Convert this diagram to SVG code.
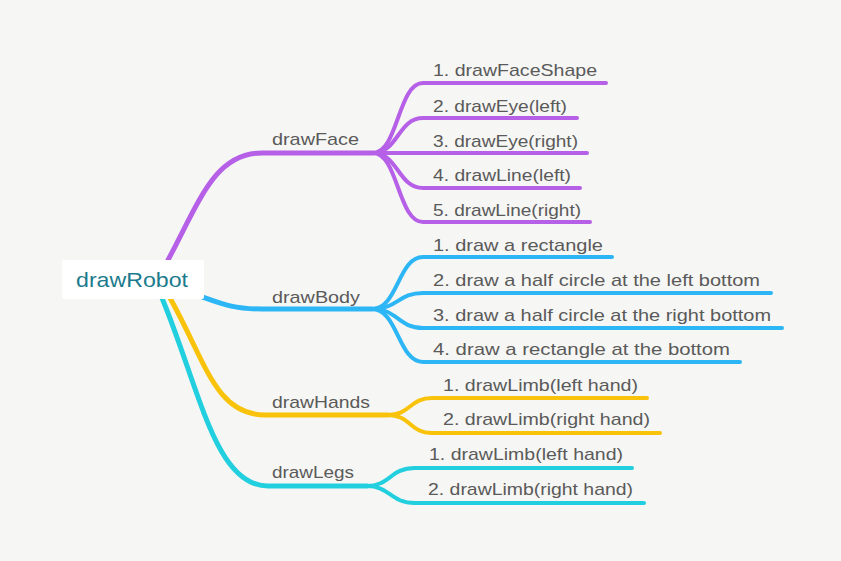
<svg xmlns="http://www.w3.org/2000/svg" width="841" height="561" viewBox="0 0 841 561">
<style>
.c{fill:none;stroke-linecap:round;stroke-linejoin:round}
.t{stroke-width:5}
.s{stroke-width:4}
.p{stroke:#b660e8}
.b{stroke:#2db6f5}
.y{stroke:#f9c20b}
.k{stroke:#22cfde}
text{font-family:"Liberation Sans",Arial,sans-serif;fill:#5a5a5a;font-size:17px}
.sub{font-size:17px}
.root{fill:#1b7b8c;font-size:21px}
</style>
<rect width="841" height="561" fill="#f6f6f4"/>
<g id="connectors">
<path class="c t p" d="M168,260 C200,200 215,153 262,153 L373,153"/>
<path class="c s p" d="M373,153 C398,153 398,83 423,83 L606,83"/>
<path class="c s p" d="M373,153 C398,153 398,118 423,118 L577,118"/>
<path class="c s p" d="M373,153 L587,153"/>
<path class="c s p" d="M373,153 C398,153 398,188 423,188 L580,188"/>
<path class="c s p" d="M373,153 C398,153 398,222 423,222 L590,222"/>
<path class="c t b" d="M200,296 C225,305 235,309 262,309 L372,309"/>
<path class="c s b" d="M372,309 C398,309 398,257 423,257 L612,257"/>
<path class="c s b" d="M372,309 C398,309 398,293 423,293 L771,293"/>
<path class="c s b" d="M372,309 C398,309 398,328 423,328 L782,328"/>
<path class="c s b" d="M372,309 C398,309 398,362 423,362 L740,362"/>
<path class="c t y" d="M170,298 C205,360 215,415 265,415 L388,415"/>
<path class="c s y" d="M388,415 C410,415 410,398 432,398 L647,398"/>
<path class="c s y" d="M388,415 C410,415 410,433 432,433 L660,433"/>
<path class="c t k" d="M162,298 C200,390 215,486 268,486 L367,486"/>
<path class="c s k" d="M367,486 C390,486 390,468 415,468 L632,468"/>
<path class="c s k" d="M367,486 C390,486 390,503 415,503 L644,503"/>
</g>
<g id="drawRobot">
<rect x="62" y="260" width="142" height="39" rx="2" fill="#ffffff"/>
<text class="root" x="76" y="287" textLength="112" lengthAdjust="spacingAndGlyphs">drawRobot</text>
</g>
<g id="drawFace">
<text x="272" y="145" textLength="87" lengthAdjust="spacingAndGlyphs">drawFace</text>
</g>
<g id="face1"><text class="sub" x="433" y="76" textLength="164" lengthAdjust="spacingAndGlyphs">1. drawFaceShape</text></g>
<g id="face2"><text class="sub" x="433" y="112" textLength="134" lengthAdjust="spacingAndGlyphs">2. drawEye(left)</text></g>
<g id="face3"><text class="sub" x="433" y="147" textLength="145" lengthAdjust="spacingAndGlyphs">3. drawEye(right)</text></g>
<g id="face4"><text class="sub" x="433" y="181" textLength="138" lengthAdjust="spacingAndGlyphs">4. drawLine(left)</text></g>
<g id="face5"><text class="sub" x="433" y="216" textLength="148" lengthAdjust="spacingAndGlyphs">5. drawLine(right)</text></g>
<g id="drawBody">
<text x="272" y="303" textLength="88" lengthAdjust="spacingAndGlyphs">drawBody</text>
</g>
<g id="body1"><text class="sub" x="433" y="251" textLength="170" lengthAdjust="spacingAndGlyphs">1. draw a rectangle</text></g>
<g id="body2"><text class="sub" x="433" y="286" textLength="327" lengthAdjust="spacingAndGlyphs">2. draw a half circle at the left bottom</text></g>
<g id="body3"><text class="sub" x="433" y="321" textLength="338" lengthAdjust="spacingAndGlyphs">3. draw a half circle at the right bottom</text></g>
<g id="body4"><text class="sub" x="433" y="355" textLength="297" lengthAdjust="spacingAndGlyphs">4. draw a rectangle at the bottom</text></g>
<g id="drawHands">
<text x="272" y="408" textLength="98" lengthAdjust="spacingAndGlyphs">drawHands</text>
</g>
<g id="hands1"><text class="sub" x="443" y="391" textLength="195" lengthAdjust="spacingAndGlyphs">1. drawLimb(left hand)</text></g>
<g id="hands2"><text class="sub" x="443" y="425" textLength="207" lengthAdjust="spacingAndGlyphs">2. drawLimb(right hand)</text></g>
<g id="drawLegs">
<text x="272" y="478" textLength="82" lengthAdjust="spacingAndGlyphs">drawLegs</text>
</g>
<g id="legs1"><text class="sub" x="429" y="460" textLength="194" lengthAdjust="spacingAndGlyphs">1. drawLimb(left hand)</text></g>
<g id="legs2"><text class="sub" x="428" y="495" textLength="205" lengthAdjust="spacingAndGlyphs">2. drawLimb(right hand)</text></g>
</svg>
